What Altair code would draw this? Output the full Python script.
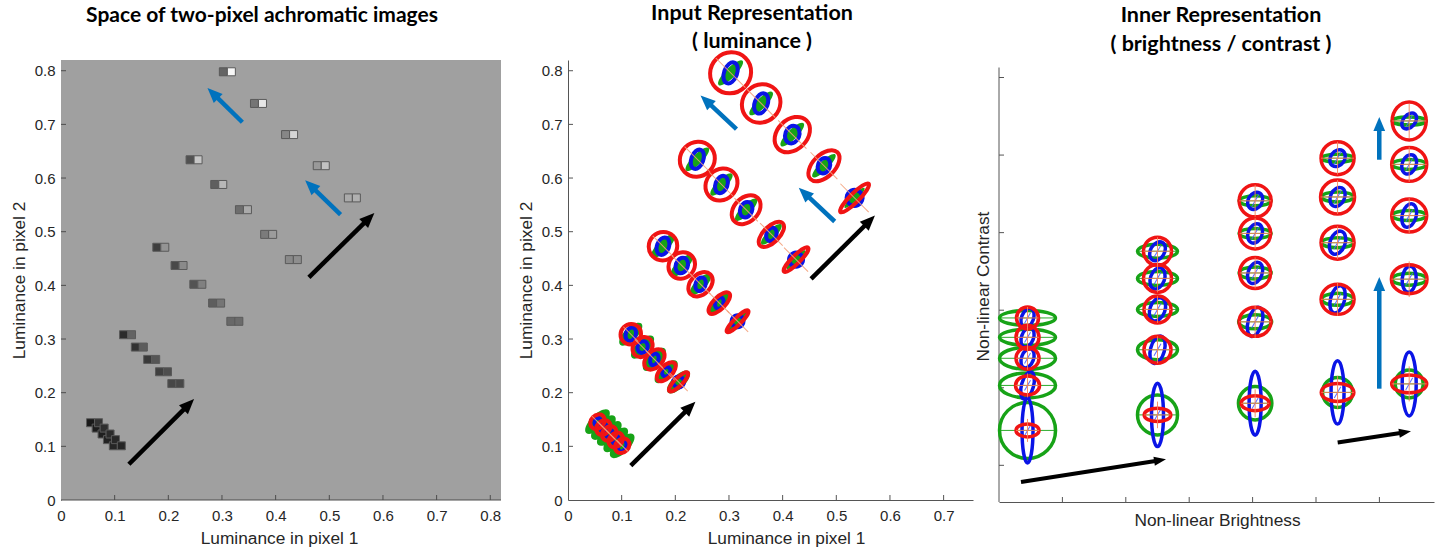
import math
import altair as alt
import pandas as pd

# ---------------- data ----------------
# Panel 1: two-pixel images, luminance of pixel 1 (x) and pixel 2 (y)
lum1 = [0.310, 0.368, 0.426, 0.485, 0.543,
        0.248, 0.294, 0.340, 0.387, 0.433,
        0.186, 0.220, 0.255, 0.290, 0.324,
        0.124, 0.146, 0.169, 0.191, 0.214,
        0.0625, 0.073, 0.084, 0.094, 0.105]
lum2 = [0.798, 0.739, 0.681, 0.623, 0.563,
        0.634, 0.588, 0.541, 0.495, 0.448,
        0.471, 0.437, 0.402, 0.367, 0.333,
        0.308, 0.285, 0.262, 0.239, 0.217,
        0.144, 0.134, 0.123, 0.1125, 0.101]

# Panel 2: ellipse centres in luminance space
in_x = [0.303, 0.360, 0.418, 0.477, 0.534,
        0.241, 0.286, 0.332, 0.379, 0.425,
        0.177, 0.212, 0.247, 0.282, 0.316,
        0.117, 0.139, 0.161, 0.183, 0.206,
        0.055, 0.066, 0.077, 0.089, 0.101]
in_y = [0.796, 0.739, 0.681, 0.623, 0.563,
        0.635, 0.588, 0.541, 0.495, 0.448,
        0.473, 0.437, 0.402, 0.367, 0.333,
        0.309, 0.285, 0.262, 0.239, 0.220,
        0.146, 0.135, 0.124, 0.112, 0.101]
# semi-axes (px) and orientation (deg, screen, clockwise)
in_green_a = [17, 16, 16, 16, 14, 16, 15, 15, 14, 13, 16, 15, 14, 13, 13, 15, 15, 15, 15, 15, 16, 16, 16, 16, 16]
in_green_b = [5, 5, 5, 4.5, 3, 5, 5, 5, 4.5, 3, 5.5, 5.5, 5.5, 5.5, 4.5, 6.5, 6.5, 6.5, 6.5, 6.5, 7, 7, 7, 7, 7]
in_green_ang = [315] * 25
in_blue_a = [11, 10.5, 9, 8, 8, 10, 9, 8, 7, 7, 9, 8, 7, 6, 6, 7, 6, 6, 5, 5.5, 4, 4, 4, 4, 6]
in_blue_b = [6.5, 6.5, 7, 6, 8, 6, 6, 6, 5, 7, 6, 6, 5, 4, 6, 5, 5, 4, 4, 5.5, 3, 3, 3, 3, 4]
in_blue_ang = [290] * 25
in_red_a = [21, 20, 20, 19, 20, 18, 17, 16.5, 16, 17, 14.5, 14, 14, 14, 15, 10.5, 11, 12, 12, 13, 8, 8, 8, 8, 8]
in_red_b = [20, 18.5, 15, 11, 4.5, 17, 15, 12, 8, 4, 14, 12.5, 10, 6, 3.5, 10, 9, 8, 6, 4, 6.5, 6.5, 6.5, 6.5, 6.5]
in_red_ang = [315] * 25

# Panel 3: inner representation (brightness, contrast)
nl_x = [0.45, 0.45, 0.45, 0.45, 0.45,
        2.50, 2.50, 2.50, 2.50, 2.50,
        4.04, 4.04, 4.04, 4.04, 4.04,
        5.34, 5.34, 5.34, 5.34, 5.34,
        6.47, 6.47, 6.47, 6.47, 6.47]
nl_y = [0.45, 1.03, 1.38, 1.65, 1.90,
        0.65, 1.49, 2.01, 2.41, 2.76,
        0.80, 1.85, 2.48, 2.99, 3.41,
        0.94, 2.14, 2.87, 3.46, 3.96,
        1.05, 2.40, 3.22, 3.88, 4.44]
nl_green_a = [28, 28, 28, 28, 28, 20, 20, 20, 20, 20, 16.7, 16.5, 16, 16, 16, 15, 16, 16, 16, 16, 14, 17, 17, 17, 17]
nl_green_b = [28, 12.5, 11, 8, 7.5, 20, 10, 7, 7, 7, 16.7, 7, 6, 5, 5, 15, 6, 5, 5, 4, 14, 6, 5, 5, 4]
nl_green_ang = [0] * 25
nl_blue_a = [32.5, 14, 10, 10, 10, 31.7, 14, 12, 11, 10, 32, 15, 11, 10, 9, 31.7, 14, 12, 10, 9, 32, 13, 12, 10, 9]
nl_blue_b = [5.5, 6, 6, 6, 6, 6, 7, 7.5, 7, 7, 6, 7, 7, 7, 7, 6.5, 7, 7.5, 7, 7, 7, 7, 7, 7, 6]
nl_blue_ang = [270, 285, 290, 290, 290, 270, 285, 290, 290, 300, 270, 285, 290, 290, 300,
               270, 285, 290, 295, 305, 270, 275, 285, 290, 310]
nl_red_a = [11.5, 12, 11.5, 11.5, 11, 13.3, 13.5, 13.5, 14, 14, 14, 16, 15.5, 15.5, 16,
            16.3, 16.5, 16.5, 17, 16.5, 17.5, 17.8, 17.5, 17.5, 17]
nl_red_b = [6.5, 9.5, 11, 12, 11, 6.7, 13.5, 13.5, 14, 14, 7.5, 14.5, 15.5, 15.5, 16,
            9, 15, 16.5, 17, 16.5, 9, 14.5, 16.5, 17, 19]
nl_red_ang = [0] * 25

# arrows: start (x1, y1) -> tip (x2, y2)
p1_arrow_x1 = [0.1265, 0.462, 0.338, 0.521]
p1_arrow_y1 = [0.0666, 0.415, 0.704, 0.532]
p1_arrow_x2 = [0.248, 0.584, 0.273, 0.455]
p1_arrow_y2 = [0.188, 0.535, 0.768, 0.596]
p1_arrow_col = ["#000000", "#000000", "#0072bd", "#0072bd"]

p2_arrow_x1 = [0.117, 0.453, 0.314, 0.497]
p2_arrow_y1 = [0.064, 0.412, 0.691, 0.519]
p2_arrow_x2 = [0.2375, 0.572, 0.247, 0.430]
p2_arrow_y2 = [0.183, 0.530, 0.754, 0.582]
p2_arrow_col = ["#000000", "#000000", "#0072bd", "#0072bd"]

p3_arrow_x1 = [0.347, 5.342, 5.998, 5.998]
p3_arrow_y1 = [-0.215, 0.293, 0.988, 3.94]
p3_arrow_x2 = [2.634, 6.498, 5.998, 5.998]
p3_arrow_y2 = [0.077, 0.438, 2.427, 4.49]
p3_arrow_col = ["#000000", "#000000", "#0072bd", "#0072bd"]

lum_labels = [0, 0.1, 0.2, 0.3, 0.4, 0.5, 0.6, 0.7, 0.8]
lum_labels_p2x = [0, 0.1, 0.2, 0.3, 0.4, 0.5, 0.6, 0.7]
lum_ticks = [0.1, 0.2, 0.3, 0.4, 0.5, 0.6, 0.7, 0.8]
lum_ticks_p2x = [0.1, 0.2, 0.3, 0.4, 0.5, 0.6, 0.7]
nl_xticks = [1, 2, 3, 4, 5, 6]
nl_yticks = [0, 1, 2, 3, 4, 5]

title1 = "Space of two-pixel achromatic images"
title2 = ["Input Representation", "( luminance )"]
title3 = ["Inner Representation", "( brightness / contrast )"]

# ---------------- layout constants ----------------
K = 536.6                  # px per luminance unit
P1_W, P1_H = 481, 440
P2_W, P2_H = 405, 440
P3_W, P3_H = 435, 442
P3_KX, P3_KY = 63.4, 77.56
GREEN, BLUE, RED = "#17a317", "#0a14e6", "#f01414"
AX = "#555555"

sc1x = alt.Scale(domain=[0, P1_W / K], nice=False, zero=False)
sc1y = alt.Scale(domain=[0, P1_H / K], nice=False, zero=False)
sc2x = alt.Scale(domain=[0, P2_W / K], nice=False, zero=False)
sc2y = alt.Scale(domain=[0, P2_H / K], nice=False, zero=False)
sc3x = alt.Scale(domain=[0, P3_W / P3_KX], nice=False, zero=False)
sc3y = alt.Scale(domain=[-0.473, P3_H / P3_KY - 0.473], nice=False, zero=False)

ax1x = alt.Axis(values=lum_labels, format=".1~f", title="Luminance in pixel 1", domain=False,
                titleX=218, titleY=38, titleBaseline="middle")
ax1y = alt.Axis(values=lum_labels, format=".1~f", title="Luminance in pixel 2",
                titleX=-42, titleBaseline="middle")
ax2x = alt.Axis(values=lum_labels_p2x, format=".1~f", title="Luminance in pixel 1",
                titleX=218, titleY=38, titleBaseline="middle")
ax2y = alt.Axis(values=lum_labels, format=".1~f", title="Luminance in pixel 2",
                titleX=-42, titleBaseline="middle")
ax3x = alt.Axis(values=nl_xticks, labels=False, title="Non-linear Brightness",
                titleX=218, titleY=18, titleBaseline="middle")
ax3y = alt.Axis(values=nl_yticks, labels=False, domain=False, title="Non-linear Contrast",
                titleX=-16, titleY=226, titleBaseline="middle")

one = pd.DataFrame({"k": [0]})


def ell_path(r):
    k = 0.5523
    kr = k * r
    return ("M 1 0 C 1 %.3f %.3f %.3f 0 %.3f C %.3f %.3f -1 %.3f -1 0 "
            "C -1 %.3f %.3f %.3f 0 %.3f C %.3f %.3f 1 %.3f 1 0 Z"
            % (kr, k, r, r, -k, r, kr, -kr, -k, -r, -r, k, -r, -kr))


def ellipses(xs, ys, a, b, ang, color, xsc, ysc, xax, yax, filled=False, sw=4.0):
    d = pd.DataFrame({"x": xs, "y": ys,
                      "path": [ell_path(bb / aa) for aa, bb in zip(a, b)],
                      "sz": [(2 * aa) ** 2 for aa in a],
                      "ang": ang})
    if filled:
        m = alt.Chart(d).mark_point(filled=True, color=color, opacity=1, strokeWidth=0)
    else:
        m = alt.Chart(d).mark_point(filled=False, color=color, opacity=1, strokeWidth=sw)
    return m.encode(
        x=alt.X("x:Q", scale=xsc, axis=xax),
        y=alt.Y("y:Q", scale=ysc, axis=yax),
        shape=alt.Shape("path:N", scale=None),
        size=alt.Size("sz:Q", scale=None),
        angle=alt.Angle("ang:Q", scale=None),
    )


def lines(xs, ys, half, ang, color, xsc, ysc, xax, yax, path="M -1 0 L 1 0", sw=1.0, op=0.9):
    d = pd.DataFrame({"x": xs, "y": ys, "sz": [(2 * h) ** 2 for h in half], "ang": ang})
    return alt.Chart(d).mark_point(filled=False, color=color, opacity=op, strokeWidth=sw).encode(
        x=alt.X("x:Q", scale=xsc, axis=xax),
        y=alt.Y("y:Q", scale=ysc, axis=yax),
        shape=alt.value(path),
        size=alt.Size("sz:Q", scale=None),
        angle=alt.Angle("ang:Q", scale=None),
    )


def arrows(x1, y1, x2, y2, cols, kx, ky, xsc, ysc, xax, yax, width=4.5, head=15.0, hw=0.42):
    rows = []
    for a, b, c, d, col in zip(x1, y1, x2, y2, cols):
        dxp, dyp = (c - a) * kx, (d - b) * ky
        L = math.hypot(dxp, dyp)
        sh = 0.75 * head
        rows.append({"x1": a, "y1": b, "x2": c, "y2": d,
                     "xs": c - sh * (c - a) / L, "ys": d - sh * (d - b) / L,
                     "ang": math.degrees(math.atan2(-dyp, dxp)) % 360, "col": col})
    d = pd.DataFrame(rows)
    shaft = alt.Chart(d).mark_rule(strokeWidth=width, strokeCap="butt").encode(
        x=alt.X("x1:Q", scale=xsc, axis=xax), y=alt.Y("y1:Q", scale=ysc, axis=yax),
        x2="xs:Q", y2="ys:Q", color=alt.Color("col:N", scale=None))
    tip = alt.Chart(d).mark_point(filled=True, opacity=1, strokeWidth=0).encode(
        x=alt.X("x2:Q", scale=xsc, axis=xax), y=alt.Y("y2:Q", scale=ysc, axis=yax),
        shape=alt.value("M 0 0 L -1 -%.2f L -1 %.2f Z" % (hw, hw)),
        size=alt.value((2 * head) ** 2),
        angle=alt.Angle("ang:Q", scale=None),
        color=alt.Color("col:N", scale=None))
    return shaft + tip


def xticks(vals, xsc, xax, h, color=AX):
    return alt.Chart(pd.DataFrame({"t": vals})).mark_rule(color=color, strokeWidth=1).encode(
        x=alt.X("t:Q", scale=xsc, axis=xax), y=alt.value(h), y2=alt.value(h - 5))


def yticks(vals, ysc, yax, color=AX):
    return alt.Chart(pd.DataFrame({"t": vals})).mark_rule(color=color, strokeWidth=1).encode(
        y=alt.Y("t:Q", scale=ysc, axis=yax), x=alt.value(0), x2=alt.value(5))


def text(s, x, y, size=21):
    return alt.Chart(pd.DataFrame({"t": [s]})).mark_text(
        font="Lato", fontWeight="bold", fontSize=size, color="#000000",
        align="center", baseline="middle").encode(text="t:N", x=alt.value(x), y=alt.value(y))


# ---------------- panel 1 ----------------
anchor = alt.Chart(one).mark_rect(color="#ffffff").encode(
    x=alt.value(-60.5), x2=alt.value(-59.5), y=alt.value(-59.5), y2=alt.value(-58.5))
gray = alt.Chart(one).mark_rect(color="#a0a0a0").encode(
    x=alt.value(0), x2=alt.value(440), y=alt.value(0), y2=alt.value(P1_H))
p1_bottom = alt.Chart(one).mark_rule(color="#4d4d4d", strokeWidth=1).encode(
    x=alt.value(0), x2=alt.value(440), y=alt.value(P1_H))
pairs = pd.DataFrame({"l1": lum1, "l2": lum2})
gscale = alt.Scale(domain=[0, 0.8], range=["#060606", "#f8f8f8"], interpolate="rgb")
left_px = alt.Chart(pairs).mark_square(size=64, opacity=1, stroke="#5a5a5a", strokeWidth=1, xOffset=-4).encode(
    x=alt.X("l1:Q", scale=sc1x, axis=ax1x), y=alt.Y("l2:Q", scale=sc1y, axis=ax1y),
    fill=alt.Fill("l1:Q", scale=gscale, legend=None))
right_px = alt.Chart(pairs).mark_square(size=64, opacity=1, stroke="#5a5a5a", strokeWidth=1, xOffset=4).encode(
    x=alt.X("l1:Q", scale=sc1x, axis=ax1x), y=alt.Y("l2:Q", scale=sc1y, axis=ax1y),
    fill=alt.Fill("l2:Q", scale=gscale, legend=None))

p1 = alt.layer(
    anchor, gray, p1_bottom,
    xticks(lum_ticks, sc1x, ax1x, P1_H, "#4d4d4d"), yticks(lum_ticks, sc1y, ax1y, "#4d4d4d"),
    left_px, right_px,
    arrows(p1_arrow_x1, p1_arrow_y1, p1_arrow_x2, p1_arrow_y2, p1_arrow_col, K, K, sc1x, sc1y, ax1x, ax1y),
    text(title1, 201, -44.5, 21),
).properties(width=P1_W, height=P1_H)

# ---------------- panel 2 ----------------
p2 = alt.layer(
    xticks(lum_ticks_p2x, sc2x, ax2x, P2_H), yticks(lum_ticks, sc2y, ax2y),
    ellipses(in_x, in_y, in_green_a, in_green_b, in_green_ang, GREEN, sc2x, sc2y, ax2x, ax2y, filled=True),
    ellipses(in_x, in_y, in_blue_a, in_blue_b, in_blue_ang, BLUE, sc2x, sc2y, ax2x, ax2y, sw=4),
    ellipses(in_x, in_y, in_red_a, in_red_b, in_red_ang, RED, sc2x, sc2y, ax2x, ax2y, sw=4),
    lines(in_x, in_y, in_red_a, [45] * 25, "#f4a07a", sc2x, sc2y, ax2x, ax2y),
    arrows(p2_arrow_x1, p2_arrow_y1, p2_arrow_x2, p2_arrow_y2, p2_arrow_col, K, K, sc2x, sc2y, ax2x, ax2y),
    text(title2[0], 184, -46, 21.5), text(title2[1], 184, -18.5, 21.5),
).properties(width=P2_W, height=P2_H)

# ---------------- panel 3 ----------------
p3_yline = alt.Chart(one).mark_rule(color=AX, strokeWidth=1).encode(
    x=alt.value(0), y=alt.value(7.5), y2=alt.value(P3_H))
p3 = alt.layer(
    p3_yline,
    xticks(nl_xticks, sc3x, ax3x, P3_H), yticks(nl_yticks, sc3y, ax3y),
    ellipses(nl_x, nl_y, nl_green_a, nl_green_b, nl_green_ang, GREEN, sc3x, sc3y, ax3x, ax3y, sw=3.5),
    lines(nl_x, nl_y, nl_green_a, [0] * 25, GREEN, sc3x, sc3y, ax3x, ax3y),
    ellipses(nl_x, nl_y, nl_blue_a, nl_blue_b, nl_blue_ang, BLUE, sc3x, sc3y, ax3x, ax3y, sw=3.5),
    lines(nl_x, nl_y, nl_blue_b, [300] * 25, "#4a5cff", sc3x, sc3y, ax3x, ax3y),
    ellipses(nl_x, nl_y, nl_red_a, nl_red_b, nl_red_ang, RED, sc3x, sc3y, ax3x, ax3y, sw=3.5),
    lines(nl_x, nl_y, nl_red_a, [0] * 25, "#f6845a", sc3x, sc3y, ax3x, ax3y,
          path="M -1 0 L 1 0 M 0 -1 L 0 1"),
    arrows(p3_arrow_x1[:2], p3_arrow_y1[:2], p3_arrow_x2[:2], p3_arrow_y2[:2], p3_arrow_col[:2],
           P3_KX, P3_KY, sc3x, sc3y, ax3x, ax3y, width=4, head=12, hw=0.38),
    arrows(p3_arrow_x1[2:], p3_arrow_y1[2:], p3_arrow_x2[2:], p3_arrow_y2[2:], p3_arrow_col[2:],
           P3_KX, P3_KY, sc3x, sc3y, ax3x, ax3y, width=4.5, head=14, hw=0.42),
    text(title3[0], 222, -44.5, 21.5), text(title3[1], 222, -15.5, 21.5),
).properties(width=P3_W, height=P3_H)

chart = alt.hconcat(p1, p2, p3, spacing=26, bounds="flush").properties(
    padding={"left": 0, "top": 0, "right": 4, "bottom": 4}
).configure_view(stroke=None).configure_axis(
    labelFont="Liberation Sans", labelFontSize=15, labelColor="#262626",
    titleFont="Liberation Sans", titleFontSize=17.3, titleFontWeight="normal", titleColor="#262626",
    domainColor=AX, domainWidth=1, ticks=False, grid=False,
    labelFlush=False, labelOverlap=False,
).configure_axisX(labelPadding=8).configure_axisY(labelPadding=6)

chart.save("out.html", embed_options={"renderer": "svg", "actions": False})
